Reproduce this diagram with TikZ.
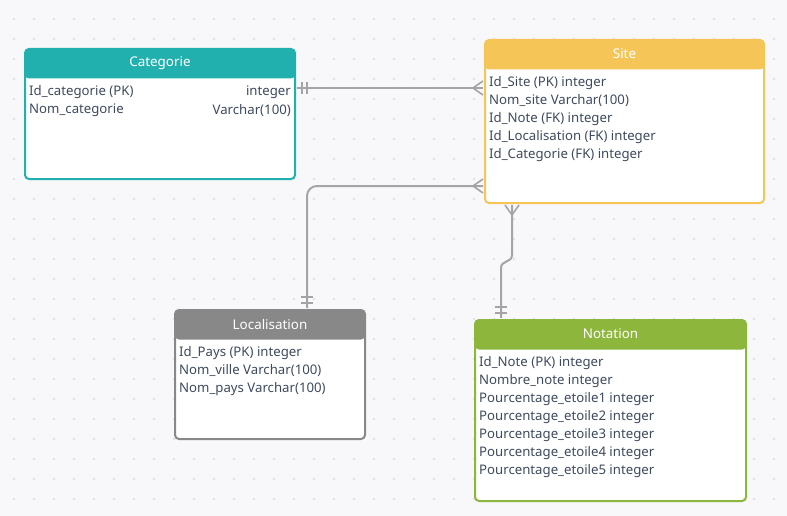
\documentclass[tikz,border=0pt]{standalone}
\usepackage{fontspec}
\setmainfont{Noto Sans}
\usetikzlibrary{calc}
\definecolor{bgc}{HTML}{F8F8FB}
\definecolor{dotc}{HTML}{E0E0E7}
\definecolor{tealc}{HTML}{22B0AF}
\definecolor{yelc}{HTML}{F5C558}
\definecolor{grayc}{HTML}{888888}
\definecolor{greenc}{HTML}{8DB63C}
\definecolor{txtc}{HTML}{3E4A5E}
\definecolor{linec}{HTML}{A4A4A6}
\tikzset{
  tbl/.style={draw=#1, fill=white, line width=2pt, rounded corners=4pt,
    anchor=north west, inner sep=0pt,
    path picture={\fill[#1] (path picture bounding box.north west) rectangle ([yshift=-29.5pt]path picture bounding box.north east);}},
  ttl/.style={text=white, font=\fontsize{13.4}{15}\selectfont, inner sep=0pt},
  fld/.style={text=txtc, font=\fontsize{13.2}{15}\selectfont, inner sep=0pt, anchor=west},
  fldr/.style={text=txtc, font=\fontsize{13.2}{15}\selectfont, inner sep=0pt, anchor=east},
  conn/.style={draw=linec, line width=2pt},
  endmark/.style={draw=linec, line width=1.6pt}
}
\begin{document}
\begin{tikzpicture}[x=1pt,y=-1pt]
\fill[bgc] (0,0) rectangle (787,516);
\useasboundingbox (0,0) rectangle (787,516);
\foreach \i in {0,...,38} {\foreach \j in {0,...,25} {\fill[dotc] (14+20*\i,19+20*\j) circle (1.3);}}

% tables
\node[tbl=tealc, minimum width=270pt, minimum height=130pt] (cat) at (24,48) {};
\node[ttl] (catt) at ($(cat.north)+(0,15.5)$) {Categorie};
\node[fld] (cat1) at ($(cat.north west)+(5,44.5)$) {Id\_categorie (PK)};
\node[fld] (cat2) at ($(cat.north west)+(5,62.5)$) {Nom\_categorie};
\node[fldr] (cat1r) at ($(cat.north east)+(-5,44.5)$) {integer};
\node[fldr] (cat2r) at ($(cat.north east)+(-5,62.5)$) {Varchar(100)};

\node[tbl=yelc, minimum width=279pt, minimum height=163pt] (site) at (484,39) {};
\node[ttl] (sitet) at ($(site.north)+(0,15)$) {Site};
\foreach \t [count=\k from 0] in {Id\_Site (PK) integer, Nom\_site Varchar(100), Id\_Note (FK) integer, Id\_Localisation (FK) integer, Id\_Categorie (FK) integer}
  {\node[fld] (site\k) at ($(site.north west)+(5,43.7+18*\k)$) {\t};}

\node[tbl=grayc, minimum width=190pt, minimum height=129pt] (loc) at (174,309) {};
\node[ttl] (loct) at ($(loc.north)+(0,15)$) {Localisation};
\foreach \t [count=\k from 0] in {Id\_Pays (PK) integer, Nom\_ville Varchar(100), Nom\_pays Varchar(100)}
  {\node[fld] (loc\k) at ($(loc.north west)+(5,43.7+18*\k)$) {\t};}

\node[tbl=greenc, minimum width=271pt, minimum height=181pt] (not) at (474,319) {};
\node[ttl] (nott) at ($(not.north)+(0,15)$) {Notation};
\foreach \t [count=\k from 0] in {Id\_Note (PK) integer, Nombre\_note integer, Pourcentage\_etoile1 integer, Pourcentage\_etoile2 integer, Pourcentage\_etoile3 integer, Pourcentage\_etoile4 integer, Pourcentage\_etoile5 integer}
  {\node[fld] (not\k) at ($(not.north west)+(5,43.7+18*\k)$) {\t};}

% connector 1: Categorie -- Site
\coordinate (a1) at ($(cat.north east)+(1,40)$);
\coordinate (b1) at ($(site.north west)+(-1,49)$);
\draw[conn] (a1) -- (b1);
\draw[endmark] ($(a1)+(5,-6)$) -- ($(a1)+(5,6)$);
\draw[endmark] ($(a1)+(10,-6)$) -- ($(a1)+(10,6)$);
\draw[endmark] ($(b1)+(0,-7)$) -- ($(b1)+(-10,0)$) -- ($(b1)+(0,7)$);

% connector 2: Site -- Localisation
\coordinate (a2) at ($(site.north west)+(-1,147)$);
\coordinate (b2) at ($(loc.north west)+(133,-1)$);
\draw[conn, rounded corners=10pt] (a2) -| (b2);
\draw[endmark] ($(a2)+(0,-7)$) -- ($(a2)+(-10,0)$) -- ($(a2)+(0,7)$);
\draw[endmark] ($(b2)+(-6,-5)$) -- ($(b2)+(6,-5)$);
\draw[endmark] ($(b2)+(-6,-11)$) -- ($(b2)+(6,-11)$);

% connector 3: Site -- Notation
\coordinate (a3) at ($(site.south west)+(28,1)$);
\coordinate (b3) at ($(not.north west)+(27,-1)$);
\coordinate (m3) at ($(a3)+(0,50)$);
\coordinate (n3) at ($(b3)+(0,-50)$);
\draw[conn] (a3) -- (m3) .. controls ($(m3)+(0,8)$) and ($(n3)+(0,-8)$) .. (n3) -- (b3);
\draw[endmark] ($(a3)+(-7,0)$) -- ($(a3)+(0,10)$) -- ($(a3)+(7,0)$);
\draw[endmark] ($(b3)+(-6,-5)$) -- ($(b3)+(6,-5)$);
\draw[endmark] ($(b3)+(-6,-11)$) -- ($(b3)+(6,-11)$);
\end{tikzpicture}
\end{document}
